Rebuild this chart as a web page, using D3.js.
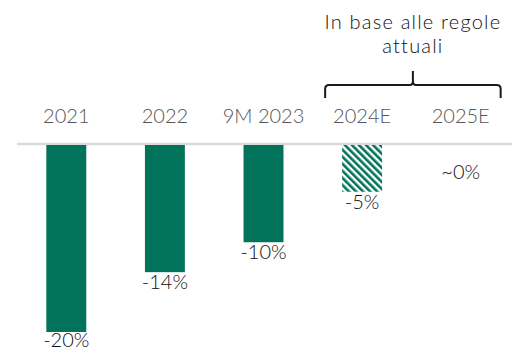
<!DOCTYPE html>
<html>
<head>
<meta charset="utf-8">
<script src="https://cdn.jsdelivr.net/npm/d3@7"></script>
<style>
  html, body { margin: 0; padding: 0; background: #fff; }
  svg { display: block; font-family: Lato, "Open Sans", sans-serif; font-weight: 300; }
</style>
</head>
<body>
<svg id="chart" width="512" height="351"></svg>
<script>
const categories = ["2021", "2022", "9M 2023", "2024E", "2025E"];
const values = [-20, -13.6, -10.4, -5, 0];
const valueLabels = ["-20%", "-14%", "-10%", "-5%", "~0%"];
const estimated = [false, false, false, true, true];
const annotation = ["In base alle regole", "attuali"];
const annotated = ["2024E", "2025E"];

const green = "#00735a";
const svg = d3.select("#chart");

const x = d3.scaleBand()
  .domain(categories)
  .range([17, 510])
  .paddingInner(0.595)
  .paddingOuter(0.2975);

const y = d3.scaleLinear()
  .domain([0, -20])
  .range([145, 332]);

// hatch for estimates
const defs = svg.append("defs");
const pat = defs.append("pattern")
  .attr("id", "hatch")
  .attr("patternUnits", "userSpaceOnUse")
  .attr("width", 5)
  .attr("height", 5)
  .attr("patternTransform", "rotate(-45)");
pat.append("rect").attr("width", 5).attr("height", 5).attr("fill", "#fff");
pat.append("rect").attr("x", 0).attr("width", 2.6).attr("height", 5).attr("fill", green);

// baseline
svg.append("line")
  .attr("x1", 17)
  .attr("x2", 512)
  .attr("y1", y(0) - 1)
  .attr("y2", y(0) - 1)
  .attr("stroke", "#d9d9d9")
  .attr("stroke-width", 2.5);

// category labels
svg.append("g")
  .selectAll("text")
  .data(categories)
  .join("text")
  .attr("x", d => x(d) + x.bandwidth() / 2)
  .attr("y", 123)
  .attr("text-anchor", "middle")
  .attr("fill", "#555")
  .style("font-size", "20px")
  .text(d => d);

// bars
svg.append("g")
  .selectAll("rect")
  .data(categories.filter((c, i) => values[i] < 0))
  .join("rect")
  .attr("x", d => x(d))
  .attr("y", y(0))
  .attr("width", x.bandwidth())
  .attr("height", d => y(values[categories.indexOf(d)]) - y(0))
  .attr("fill", d => estimated[categories.indexOf(d)] ? "url(#hatch)" : green);

// value labels
svg.append("g")
  .selectAll("text")
  .data(categories)
  .join("text")
  .attr("x", d => x(d) + x.bandwidth() / 2)
  .attr("y", (d, i) => values[i] < 0 ? Math.min(y(values[i]) + 17, 347) : y(0) + 34)
  .attr("text-anchor", "middle")
  .attr("fill", "#111")
  .style("font-size", "20px")
  .text((d, i) => valueLabels[i]);

// brace over estimates
const bx0 = x(annotated[0]) - 17;
const bx1 = x(annotated[1]) + x.bandwidth() + 20;
const bm = (bx0 + bx1) / 2;
const by = 85;
svg.append("path")
  .attr("d", `M${bx0},98 L${bx0},${by + 4} Q${bx0},${by} ${bx0 + 4},${by}
    L${bm - 3},${by} Q${bm},${by} ${bm},${by - 4} L${bm},71
    M${bm},${by - 4} Q${bm},${by} ${bm + 3},${by}
    L${bx1 - 4},${by} Q${bx1},${by} ${bx1},${by + 4} L${bx1},98`)
  .attr("fill", "none")
  .attr("stroke", "#1a1a1a")
  .attr("stroke-width", 2);

svg.append("g")
  .selectAll("text")
  .data(annotation)
  .join("text")
  .attr("x", bm)
  .attr("y", (d, i) => 29 + i * 24)
  .attr("text-anchor", "middle")
  .attr("fill", "#111")
  .style("font-size", "20px")
  .style("letter-spacing", "1.2px")
  .text(d => d);
</script>
</body>
</html>
